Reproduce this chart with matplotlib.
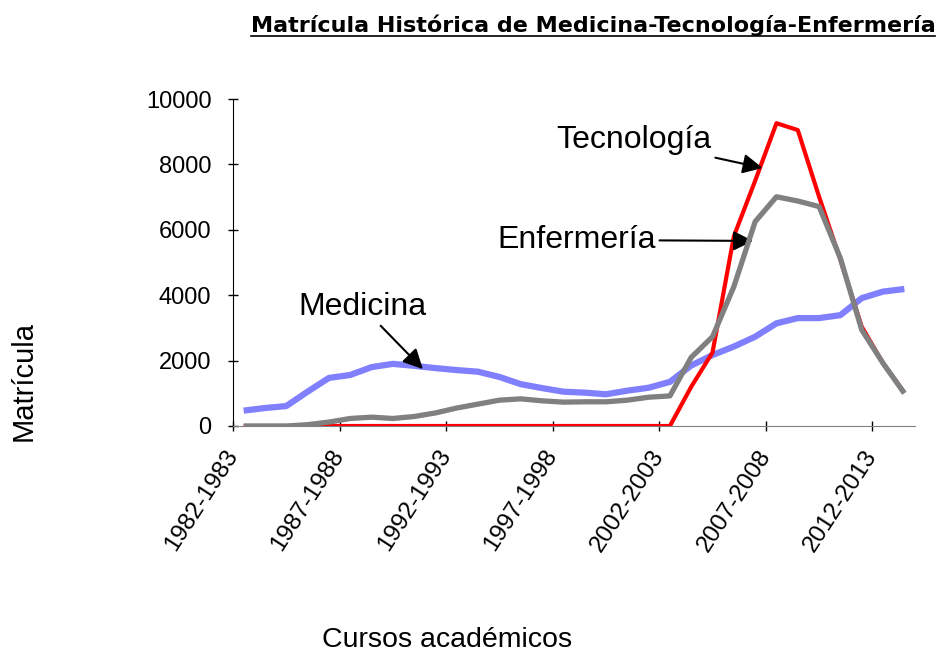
import matplotlib
matplotlib.use("Agg")
import matplotlib.pyplot as plt
from matplotlib.lines import Line2D

plt.rcParams['font.family'] = ['Liberation Sans', 'DejaVu Sans']

# ================= DATA =================
cursos = [f"{y}-{y + 1}" for y in range(1982, 2014)]

medicina = [470, 550, 610, 1050, 1470, 1560, 1800, 1900, 1840, 1770, 1710,
            1660, 1500, 1280, 1160, 1050, 1020, 970, 1080, 1170, 1350, 1850,
            2170, 2430, 2730, 3140, 3300, 3300, 3390, 3910, 4110, 4190]

enfermeria = [0, 0, 0, 40, 120, 230, 270, 230, 290, 400, 550,
              670, 790, 830, 770, 730, 740, 740, 790, 880, 920, 2100,
              2730, 4260, 6250, 7010, 6880, 6710, 5130, 2940, 1920, 1000]

tecnologia = [0, 0, 0, 0, 0, 0, 0, 0, 0, 0, 0,
              0, 0, 0, 0, 0, 0, 0, 0, 0, 0, 1200,
              2250, 5800, 7500, 9260, 9050, 7010, 5080, 3040, 1920, 1020]

y_ticks = [0, 2000, 4000, 6000, 8000, 10000]

# ================= FIGURE =================
fig = plt.figure(figsize=(9.42, 6.52), dpi=100)
ax = fig.add_axes([233 / 942, 1 - 426 / 652, 682 / 942, 327 / 652])

x = list(range(len(cursos)))
ax.plot(x, medicina, color="#8080FF", lw=4.5, solid_capstyle="butt", zorder=2)
ax.plot(x, tecnologia, color="#FF0000", lw=3.0, solid_capstyle="butt", zorder=3)
ax.plot(x, enfermeria, color="#808080", lw=3.8, solid_capstyle="butt", zorder=4)

ax.set_xlim(-0.5, len(cursos) - 0.5)
ax.set_ylim(0, 10000)
ax.set_yticks(y_ticks)
ax.set_yticklabels([str(v) for v in y_ticks], fontsize=17)

# ticks sit on category boundaries, every 5 courses
tick_pos = [i - 0.5 for i in range(0, len(cursos), 5)]
ax.set_xticks(tick_pos)
ax.set_xticklabels(cursos[::5], fontsize=17.5, rotation=57,
                   ha="right", va="center", rotation_mode="anchor")

ax.tick_params(axis="both", direction="inout", length=7, width=1)
ax.tick_params(axis="y", pad=12)
ax.tick_params(axis="x", pad=15, colors="black")

for s in ["top", "right"]:
    ax.spines[s].set_visible(False)
ax.spines["left"].set_color("black")
ax.spines["bottom"].set_color("#808080")

# ================= ANNOTATIONS =================
arrow = dict(arrowstyle="-|>", color="black", lw=1.5, mutation_scale=30,
             shrinkA=1, shrinkB=0)
ax.annotate("Tecnología", xy=(24.35, 7890), xytext=(18.3, 8750),
            fontsize=23, ha="center", va="center", arrowprops=arrow)
ax.annotate("Enfermería", xy=(23.9, 5660), xytext=(15.6, 5690),
            fontsize=23, ha="center", va="center", arrowprops=arrow)
ax.annotate("Medicina", xy=(8.41, 1740), xytext=(5.57, 3640),
            fontsize=23, ha="center", va="center", arrowprops=arrow)

# ================= TEXTS =================
title = fig.text(593 / 942, 1 - 25 / 652,
                 "Matrícula Histórica de Medicina-Tecnología-Enfermería",
                 fontsize=16, fontweight="bold", family="DejaVu Sans",
                 ha="center", va="center")
fig.canvas.draw()
bb = title.get_window_extent(fig.canvas.get_renderer())
fig.add_artist(Line2D([bb.x0 / 942, bb.x1 / 942], [1 - 36 / 652, 1 - 36 / 652],
                      color="black", lw=1.2, transform=fig.transFigure))

fig.text(24 / 942, 1 - 381 / 652, "Matrícula", fontsize=21, rotation=90,
         ha="center", va="center")
fig.text(447 / 942, 1 - 647 / 652, "Cursos académicos", fontsize=20.5,
         ha="center", va="baseline")

fig.savefig("out.png", dpi=100)
